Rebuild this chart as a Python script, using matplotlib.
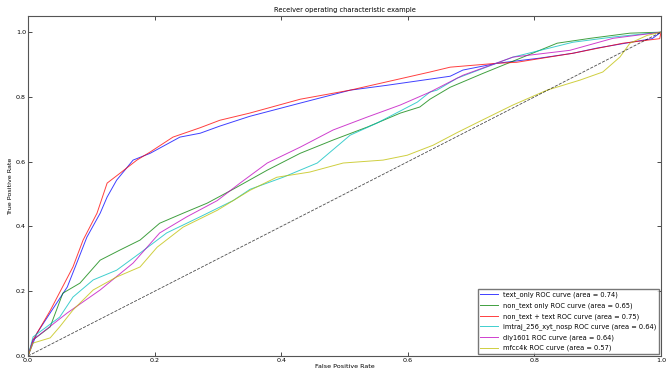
import matplotlib
matplotlib.use("Agg")
import matplotlib.pyplot as plt

# curve points (false positive rate, true positive rate)
text_only_fpr = [0.0, 0.008, 0.014, 0.035, 0.062, 0.077, 0.093, 0.114, 0.125, 0.14, 0.166, 0.193, 0.24, 0.272,
                 0.303, 0.35, 0.43, 0.509, 0.567, 0.635, 0.667, 0.687, 0.741, 0.809, 0.861, 0.899, 0.986, 1.0]
text_only_tpr = [0.0, 0.04, 0.07, 0.133, 0.213, 0.287, 0.367, 0.441, 0.491, 0.543, 0.605, 0.626, 0.676, 0.688,
                 0.71, 0.74, 0.781, 0.821, 0.836, 0.855, 0.864, 0.883, 0.904, 0.92, 0.935, 0.951, 0.98, 1.0]

non_text_fpr = [0.0, 0.008, 0.035, 0.055, 0.082, 0.114, 0.145, 0.177, 0.208, 0.245, 0.283, 0.324, 0.378, 0.43,
                0.482, 0.536, 0.588, 0.619, 0.635, 0.667, 0.719, 0.782, 0.836, 0.888, 0.951, 1.0]
non_text_tpr = [0.0, 0.05, 0.09, 0.194, 0.225, 0.296, 0.327, 0.358, 0.41, 0.441, 0.472, 0.515, 0.574, 0.626,
                0.667, 0.707, 0.75, 0.769, 0.793, 0.83, 0.873, 0.923, 0.966, 0.981, 0.997, 1.0]

combined_fpr = [0.0, 0.008, 0.035, 0.071, 0.087, 0.109, 0.125, 0.145, 0.172, 0.193, 0.229, 0.272, 0.303, 0.35,
                0.43, 0.509, 0.635, 0.667, 0.741, 0.772, 0.861, 0.94, 0.998, 1.0]
combined_tpr = [0.0, 0.05, 0.14, 0.275, 0.358, 0.441, 0.534, 0.564, 0.605, 0.63, 0.676, 0.705, 0.728, 0.75,
                0.793, 0.821, 0.877, 0.892, 0.904, 0.907, 0.935, 0.966, 0.98, 1.0]

imtraj_fpr = [0.0, 0.008, 0.05, 0.071, 0.103, 0.14, 0.177, 0.219, 0.272, 0.324, 0.351, 0.403, 0.457, 0.509,
              0.551, 0.615, 0.635, 0.646, 0.678, 0.766, 0.861, 0.924, 1.0]
imtraj_tpr = [0.0, 0.059, 0.12, 0.182, 0.235, 0.265, 0.318, 0.38, 0.43, 0.48, 0.515, 0.552, 0.596, 0.682,
              0.719, 0.784, 0.815, 0.821, 0.858, 0.923, 0.969, 0.985, 1.0]

diy_fpr = [0.0, 0.008, 0.062, 0.114, 0.166, 0.208, 0.251, 0.299, 0.335, 0.378, 0.43, 0.482, 0.536, 0.588,
           0.635, 0.687, 0.766, 0.856, 0.924, 1.0]
diy_tpr = [0.0, 0.05, 0.133, 0.204, 0.287, 0.38, 0.43, 0.48, 0.534, 0.596, 0.645, 0.698, 0.738, 0.775,
           0.815, 0.867, 0.923, 0.944, 0.981, 1.0]

mfcc_fpr = [0.0, 0.008, 0.035, 0.05, 0.071, 0.103, 0.14, 0.177, 0.204, 0.245, 0.299, 0.351, 0.393, 0.445,
            0.498, 0.561, 0.599, 0.64, 0.678, 0.714, 0.766, 0.82, 0.872, 0.908, 0.935, 0.951, 0.978, 1.0]
mfcc_tpr = [0.0, 0.04, 0.056, 0.09, 0.142, 0.204, 0.244, 0.275, 0.336, 0.398, 0.45, 0.512, 0.552, 0.568,
            0.596, 0.605, 0.62, 0.651, 0.69, 0.725, 0.775, 0.821, 0.852, 0.877, 0.923, 0.966, 0.99, 1.0]

labels = ["text_only ROC curve (area = 0.74)",
          "non_text only ROC curve (area = 0.65)",
          "non_text + text ROC curve (area = 0.75)",
          "imtraj_256_xyt_nosp ROC curve (area = 0.64)",
          "diy1601 ROC curve (area = 0.64)",
          "mfcc4k ROC curve (area = 0.57)"]

curves = [(text_only_fpr, text_only_tpr, "b"),
          (non_text_fpr, non_text_tpr, "g"),
          (combined_fpr, combined_tpr, "r"),
          (imtraj_fpr, imtraj_tpr, "c"),
          (diy_fpr, diy_tpr, "m"),
          (mfcc_fpr, mfcc_tpr, "y")]

fig = plt.figure(figsize=(6.67, 3.72), dpi=100)
ax = fig.add_axes([0.042, 0.043, 0.949, 0.914])

for (fpr, tpr, col), lab in zip(curves, labels):
    ax.plot(fpr, tpr, color=col, linewidth=0.7, alpha=0.75, label=lab)
ax.plot([0, 1], [0, 1], "k--", linewidth=0.6, alpha=0.7)

ax.set_xlim(0.0, 1.0)
ax.set_ylim(0.0, 1.05)
ax.set_xticks([0.0, 0.2, 0.4, 0.6, 0.8, 1.0])
ax.set_yticks([0.0, 0.2, 0.4, 0.6, 0.8, 1.0])
ax.tick_params(direction="in", top=True, right=True, labelsize=4.6, length=3, width=0.5, pad=1.5)
for s in ax.spines.values():
    s.set_color("#555555")
    s.set_linewidth(0.8)
ax.set_xlabel("False Positive Rate", fontsize=4.6, labelpad=0.5)
ax.set_ylabel("True Positive Rate", fontsize=4.6, labelpad=2)
ax.set_title("Receiver operating characteristic example", fontsize=4.8, pad=3)
leg = ax.legend(loc="lower right", fontsize=4.8, fancybox=False, handlelength=2.6, borderaxespad=0.3,
                labelspacing=0.6)
leg.get_frame().set_edgecolor("#555555")

fig.savefig("out.png", dpi=100)
